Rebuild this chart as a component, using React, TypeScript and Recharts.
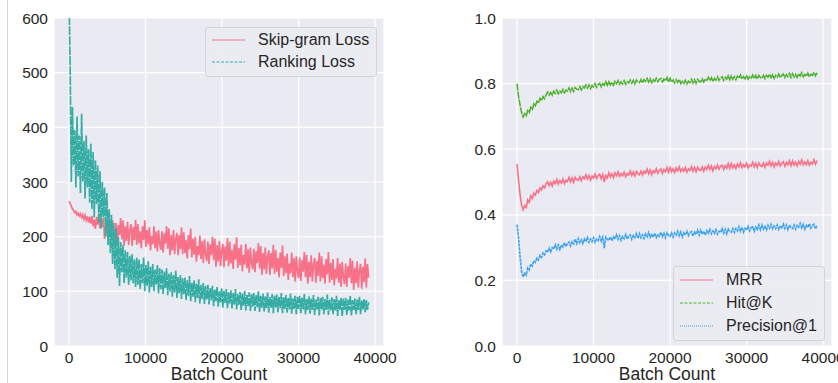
import { LineChart, Line, XAxis, YAxis, CartesianGrid, Legend } from 'recharts';

// batches between logged points
const lossStep = 150;
const metricStep = 200;

const batchTicks = [0, 10000, 20000, 30000, 40000];
const lossTicks = [0, 100, 200, 300, 400, 500, 600];
const metricTicks = [0, 0.2, 0.4, 0.6, 0.8, 1.0];

// left panel (one row = 3000 batches)
const skipGramLoss = [
    265, 261, 256, 251, 248, 244, 246, 240, 243, 238, 242, 235, 240, 232, 239, 230, 237, 226, 236, 224,
    238, 219, 231, 214, 236, 222, 242, 215, 232, 218, 234, 196, 220, 206, 236, 200, 228, 194, 230, 208,
    192, 225, 188, 221, 203, 234, 195, 230, 184, 219, 192, 227, 185, 212, 223, 183, 218, 194, 231, 185,
    223, 188, 210, 179, 219, 194, 230, 181, 212, 186, 217, 175, 201, 186, 219, 179, 210, 173, 212, 188,
    176, 210, 171, 206, 187, 219, 178, 215, 166, 203, 175, 212, 168, 196, 207, 166, 203, 177, 217, 168,
    208, 170, 194, 160, 203, 177, 215, 162, 196, 167, 200, 154, 183, 166, 202, 159, 192, 152, 195, 168,
    155, 191, 150, 186, 167, 200, 157, 196, 145, 184, 154, 192, 146, 175, 187, 144, 182, 156, 197, 146,
    191, 151, 176, 141, 186, 158, 199, 143, 179, 148, 185, 137, 167, 149, 187, 142, 177, 134, 180, 152,
    140, 178, 135, 173, 152, 188, 142, 183, 130, 170, 140, 180, 132, 163, 175, 130, 170, 142, 185, 132,
    176, 136, 161, 126, 171, 143, 184, 128, 164, 133, 169, 121, 151, 133, 171, 126, 161, 118, 164, 136,
    124, 162, 119, 157, 136, 172, 126, 167, 114, 154, 126, 166, 118, 149, 161, 116, 156, 128, 171, 118,
    164, 124, 149, 114, 159, 131, 172, 116, 152, 121, 159, 111, 141, 123, 161, 116, 151, 108, 154, 126,
    113, 151, 108, 146, 125, 161, 115, 156, 103, 143, 115, 155, 107, 138, 150, 105, 145, 117, 160, 107,
    150, 125,
];
const rankingLoss = [
    640, 505, 300, 437, 330, 395, 290, 420, 310, 385, 280, 425, 300, 375, 270, 385, 290, 360, 262, 370,
    250, 355, 235, 340, 260, 330, 225, 320, 215, 300, 235, 290, 200, 280, 185, 250, 170, 240, 150, 225,
    140, 215, 125, 200, 110, 190, 135, 185, 115, 175, 125, 172, 112, 165, 120, 168, 115, 158, 108, 162,
    112, 158, 104, 150, 115, 162, 100, 148, 110, 155, 98, 145, 108, 150, 100, 140, 112, 148, 96, 142,
    104, 140, 95, 136, 106, 142, 93, 132, 100, 135, 90, 130, 98, 138, 88, 126, 96, 130, 86, 124,
    95, 125, 84, 120, 92, 128, 82, 116, 90, 120, 80, 114, 88, 122, 78, 112, 86, 115, 77, 110,
    85, 112, 76, 106, 84, 110, 73, 103, 82, 108, 72, 100, 80, 106, 70, 101, 79, 104, 69, 98,
    78, 102, 68, 97, 76, 104, 67, 95, 75, 99, 66, 96, 74, 101, 65, 94, 73, 98, 64, 95,
    72, 97, 64, 93, 71, 100, 62, 92, 70, 96, 63, 91, 69, 98, 61, 90, 70, 95, 60, 92,
    70, 94, 62, 90, 69, 97, 60, 89, 68, 93, 61, 88, 67, 96, 59, 87, 68, 92, 58, 90,
    68, 92, 60, 88, 67, 95, 58, 86, 66, 91, 59, 87, 66, 93, 57, 85, 67, 90, 56, 88,
    67, 90, 58, 86, 66, 94, 57, 85, 65, 89, 58, 86, 65, 92, 55, 84, 66, 88, 54, 87,
    66, 88, 57, 85, 65, 92, 56, 84, 66, 87, 58, 85, 66, 90, 58, 83, 67, 86, 62, 84,
    66, 80,
];

// right panel (one row = 4000 batches)
const mrr = [
    0.555, 0.505, 0.462, 0.430, 0.416, 0.428, 0.422, 0.446, 0.438, 0.458, 0.450, 0.466, 0.460, 0.474, 0.468, 0.482, 0.476, 0.488, 0.482, 0.494,
    0.501, 0.489, 0.499, 0.488, 0.503, 0.495, 0.508, 0.494, 0.504, 0.497, 0.509, 0.495, 0.505, 0.501, 0.514, 0.501, 0.513, 0.499, 0.514, 0.507,
    0.505, 0.516, 0.504, 0.516, 0.510, 0.522, 0.509, 0.520, 0.506, 0.518, 0.512, 0.524, 0.511, 0.520, 0.524, 0.510, 0.523, 0.500, 0.520, 0.512,
    0.528, 0.515, 0.525, 0.513, 0.528, 0.519, 0.531, 0.517, 0.526, 0.519, 0.530, 0.516, 0.526, 0.521, 0.534, 0.520, 0.531, 0.518, 0.532, 0.525,
    0.522, 0.533, 0.521, 0.533, 0.527, 0.539, 0.525, 0.537, 0.522, 0.535, 0.528, 0.540, 0.527, 0.536, 0.540, 0.526, 0.538, 0.531, 0.544, 0.530,
    0.544, 0.531, 0.540, 0.529, 0.543, 0.534, 0.546, 0.532, 0.541, 0.533, 0.544, 0.530, 0.540, 0.535, 0.547, 0.533, 0.545, 0.531, 0.545, 0.537,
    0.535, 0.546, 0.533, 0.546, 0.539, 0.551, 0.538, 0.549, 0.534, 0.547, 0.540, 0.552, 0.539, 0.548, 0.551, 0.538, 0.550, 0.542, 0.556, 0.541,
    0.556, 0.543, 0.552, 0.541, 0.555, 0.546, 0.559, 0.544, 0.553, 0.546, 0.557, 0.543, 0.552, 0.548, 0.560, 0.546, 0.557, 0.544, 0.558, 0.550,
    0.547, 0.558, 0.545, 0.558, 0.551, 0.563, 0.549, 0.560, 0.546, 0.558, 0.551, 0.563, 0.549, 0.558, 0.562, 0.548, 0.560, 0.552, 0.565, 0.550,
    0.564, 0.551, 0.561, 0.549, 0.563, 0.554, 0.567, 0.552, 0.561, 0.553, 0.565, 0.551, 0.560, 0.555, 0.568, 0.554, 0.565,
];
const hitAtK = [
    0.800, 0.760, 0.735, 0.712, 0.698, 0.708, 0.702, 0.718, 0.712, 0.728, 0.722, 0.738, 0.732, 0.746, 0.740, 0.755, 0.748, 0.760, 0.754, 0.766,
    0.774, 0.765, 0.773, 0.765, 0.777, 0.770, 0.780, 0.769, 0.777, 0.772, 0.782, 0.772, 0.780, 0.777, 0.787, 0.776, 0.786, 0.776, 0.788, 0.783,
    0.781, 0.791, 0.781, 0.791, 0.787, 0.796, 0.786, 0.796, 0.785, 0.794, 0.790, 0.800, 0.789, 0.797, 0.801, 0.790, 0.800, 0.795, 0.806, 0.795,
    0.806, 0.796, 0.804, 0.795, 0.807, 0.800, 0.809, 0.798, 0.805, 0.799, 0.809, 0.798, 0.806, 0.802, 0.811, 0.801, 0.810, 0.799, 0.811, 0.805,
    0.803, 0.812, 0.802, 0.812, 0.807, 0.816, 0.805, 0.815, 0.803, 0.812, 0.807, 0.816, 0.806, 0.813, 0.816, 0.805, 0.814, 0.808, 0.818, 0.805,
    0.816, 0.805, 0.811, 0.802, 0.812, 0.804, 0.813, 0.800, 0.807, 0.801, 0.810, 0.799, 0.807, 0.803, 0.813, 0.802, 0.812, 0.801, 0.813, 0.807,
    0.805, 0.814, 0.805, 0.814, 0.810, 0.819, 0.809, 0.818, 0.806, 0.816, 0.811, 0.821, 0.810, 0.817, 0.821, 0.810, 0.819, 0.814, 0.824, 0.812,
    0.823, 0.813, 0.821, 0.812, 0.823, 0.816, 0.826, 0.814, 0.821, 0.815, 0.824, 0.814, 0.821, 0.817, 0.826, 0.815, 0.825, 0.814, 0.825, 0.819,
    0.816, 0.825, 0.815, 0.825, 0.820, 0.829, 0.818, 0.827, 0.816, 0.825, 0.820, 0.829, 0.818, 0.825, 0.829, 0.818, 0.827, 0.821, 0.831, 0.819,
    0.830, 0.820, 0.828, 0.819, 0.830, 0.823, 0.833, 0.821, 0.828, 0.822, 0.832, 0.821, 0.828, 0.825, 0.834, 0.824, 0.833,
];
const precisionAt1 = [
    0.370, 0.330, 0.272, 0.228, 0.210, 0.222, 0.216, 0.238, 0.232, 0.250, 0.244, 0.260, 0.255, 0.268, 0.262, 0.276, 0.270, 0.284, 0.278, 0.290,
    0.286, 0.298, 0.287, 0.300, 0.295, 0.308, 0.295, 0.308, 0.294, 0.308, 0.302, 0.315, 0.303, 0.313, 0.317, 0.305, 0.318, 0.311, 0.326, 0.312,
    0.327, 0.314, 0.324, 0.312, 0.327, 0.318, 0.331, 0.316, 0.326, 0.318, 0.330, 0.316, 0.326, 0.321, 0.334, 0.320, 0.332, 0.298, 0.332, 0.325,
    0.322, 0.333, 0.321, 0.333, 0.326, 0.339, 0.325, 0.336, 0.322, 0.334, 0.327, 0.340, 0.326, 0.335, 0.339, 0.325, 0.337, 0.330, 0.343, 0.328,
    0.343, 0.330, 0.339, 0.328, 0.342, 0.333, 0.346, 0.331, 0.340, 0.332, 0.344, 0.330, 0.339, 0.334, 0.347, 0.333, 0.344, 0.330, 0.345, 0.337,
    0.334, 0.345, 0.332, 0.345, 0.338, 0.350, 0.336, 0.348, 0.333, 0.345, 0.338, 0.350, 0.337, 0.346, 0.349, 0.335, 0.348, 0.340, 0.353, 0.338,
    0.353, 0.340, 0.350, 0.338, 0.352, 0.344, 0.356, 0.342, 0.351, 0.343, 0.355, 0.341, 0.350, 0.346, 0.358, 0.344, 0.356, 0.342, 0.357, 0.349,
    0.347, 0.358, 0.346, 0.358, 0.351, 0.364, 0.350, 0.362, 0.347, 0.359, 0.353, 0.365, 0.351, 0.361, 0.364, 0.350, 0.363, 0.355, 0.369, 0.354,
    0.369, 0.356, 0.365, 0.354, 0.368, 0.359, 0.371, 0.357, 0.366, 0.358, 0.369, 0.355, 0.364, 0.360, 0.372, 0.358, 0.369, 0.355, 0.369, 0.361,
    0.358, 0.369, 0.356, 0.368, 0.362, 0.374, 0.360, 0.371, 0.356, 0.368, 0.361, 0.373, 0.359, 0.368, 0.371, 0.357, 0.368,
];

const lossData = skipGramLoss.map((v, i) => ({ batch: i * lossStep, skip: v, rank: rankingLoss[i] }));
const metricData = mrr.map((v, i) => ({ batch: i * metricStep, mrr: v, hit: hitAtK[i], prec: precisionAt1[i] }));

const FONT = '"Liberation Sans", Arial, sans-serif';
const TEXT = '#262626';
const BG = '#eaeaf2';
const tick = { fill: TEXT, fontSize: 15.5, fontFamily: FONT };

interface LegendItem {
    name: string;
    color: string;
    dash?: string;
}

function BoxLegend({ items, width, rowH }: { items: LegendItem[]; width: number; rowH: number }) {
    return (
        <div style={{
            width, boxSizing: 'border-box', padding: '1px 0 3px 6px',
            background: 'rgba(234,234,242,0.92)', border: '1px solid #d4d4dc', borderRadius: 3,
            fontFamily: FONT, fontSize: 16, color: TEXT,
        }}>
            {items.map((it) => (
                <div key={it.name} style={{ height: rowH, display: 'flex', alignItems: 'center' }}>
                    <svg width={33} height={4} style={{ marginRight: 13 }}>
                        <line x1={0} y1={2} x2={33} y2={2} stroke={it.color} strokeWidth={1.2} strokeDasharray={it.dash} />
                    </svg>
                    <span>{it.name}</span>
                </div>
            ))}
        </div>
    );
}

const lossLegend: LegendItem[] = [
    { name: 'Skip-gram Loss', color: '#f77189' },
    { name: 'Ranking Loss', color: '#36ada4', dash: '3 1.5' },
];
const metricLegend: LegendItem[] = [
    { name: 'MRR', color: '#f77189' },
    { name: 'Hit@K', color: '#50b131', dash: '3 1.5' },
    { name: 'Precision@1', color: '#3ba3ec', dash: '1 1' },
];

const batchLabel = { value: 'Batch Count', position: 'insideBottom' as const, offset: 3, fill: TEXT, fontSize: 17.5, fontFamily: FONT };

export default function App() {
    return (
        <div style={{ position: 'absolute', left: 0, top: 0, width: 838, height: 383, overflow: 'hidden', background: '#fff' }}>
            <div style={{ position: 'absolute', left: 7, top: 0, width: 1, height: 383, background: '#d6d6d6' }} />
            <div style={{ position: 'absolute', left: 0, top: 0 }}>
                <LineChart width={420} height={383} data={lossData} margin={{ top: 18, right: 36, bottom: 0, left: 10 }}>
                    <CartesianGrid stroke="#fff" strokeWidth={1.2} fill={BG} />
                    <XAxis dataKey="batch" type="number" domain={[-1960, 41160]} ticks={batchTicks} allowDataOverflow
                        axisLine={false} tickLine={false} tickSize={0} tickMargin={6} height={37} tick={tick} interval={0} label={batchLabel} />
                    <YAxis type="number" domain={[0, 600]} ticks={lossTicks} allowDataOverflow
                        axisLine={false} tickLine={false} tickSize={0} tickMargin={6} width={44} tick={tick} interval={0} />
                    <Line dataKey="skip" stroke="#f77189" strokeWidth={1.7} dot={false} isAnimationActive={false} />
                    <Line dataKey="rank" stroke="#36ada4" strokeWidth={1.7} strokeDasharray="9 1" dot={false} isAnimationActive={false} />
                    <Legend layout="horizontal" verticalAlign="middle" align="center"
                        wrapperStyle={{ left: 205, top: 27, width: 172 }}
                        content={() => <BoxLegend items={lossLegend} width={172} rowH={22} />} />
                </LineChart>
            </div>
            <div style={{ position: 'absolute', left: 448, top: 0 }}>
                <LineChart width={420} height={383} data={metricData} margin={{ top: 18, right: 36, bottom: 0, left: 10 }}>
                    <CartesianGrid stroke="#fff" strokeWidth={1.2} fill={BG} />
                    <XAxis dataKey="batch" type="number" domain={[-1960, 41160]} ticks={batchTicks} allowDataOverflow
                        axisLine={false} tickLine={false} tickSize={0} tickMargin={6} height={37} tick={tick} interval={0} label={batchLabel} />
                    <YAxis type="number" domain={[0, 1]} ticks={metricTicks} allowDataOverflow
                        axisLine={false} tickLine={false} tickSize={0} tickMargin={6} width={44} tick={tick} interval={0}
                        tickFormatter={(v: number) => v.toFixed(1)} />
                    <Line dataKey="mrr" stroke="#f77189" strokeWidth={1.6} dot={false} isAnimationActive={false} />
                    <Line dataKey="hit" stroke="#50b131" strokeWidth={1.6} strokeDasharray="7 1" dot={false} isAnimationActive={false} />
                    <Line dataKey="prec" stroke="#3ba3ec" strokeWidth={1.6} strokeDasharray="3 0.8" dot={false} isAnimationActive={false} />
                    <Legend layout="horizontal" verticalAlign="middle" align="center"
                        wrapperStyle={{ left: 225, top: 266, width: 152 }}
                        content={() => <BoxLegend items={metricLegend} width={152} rowH={23} />} />
                </LineChart>
            </div>
        </div>
    );
}
